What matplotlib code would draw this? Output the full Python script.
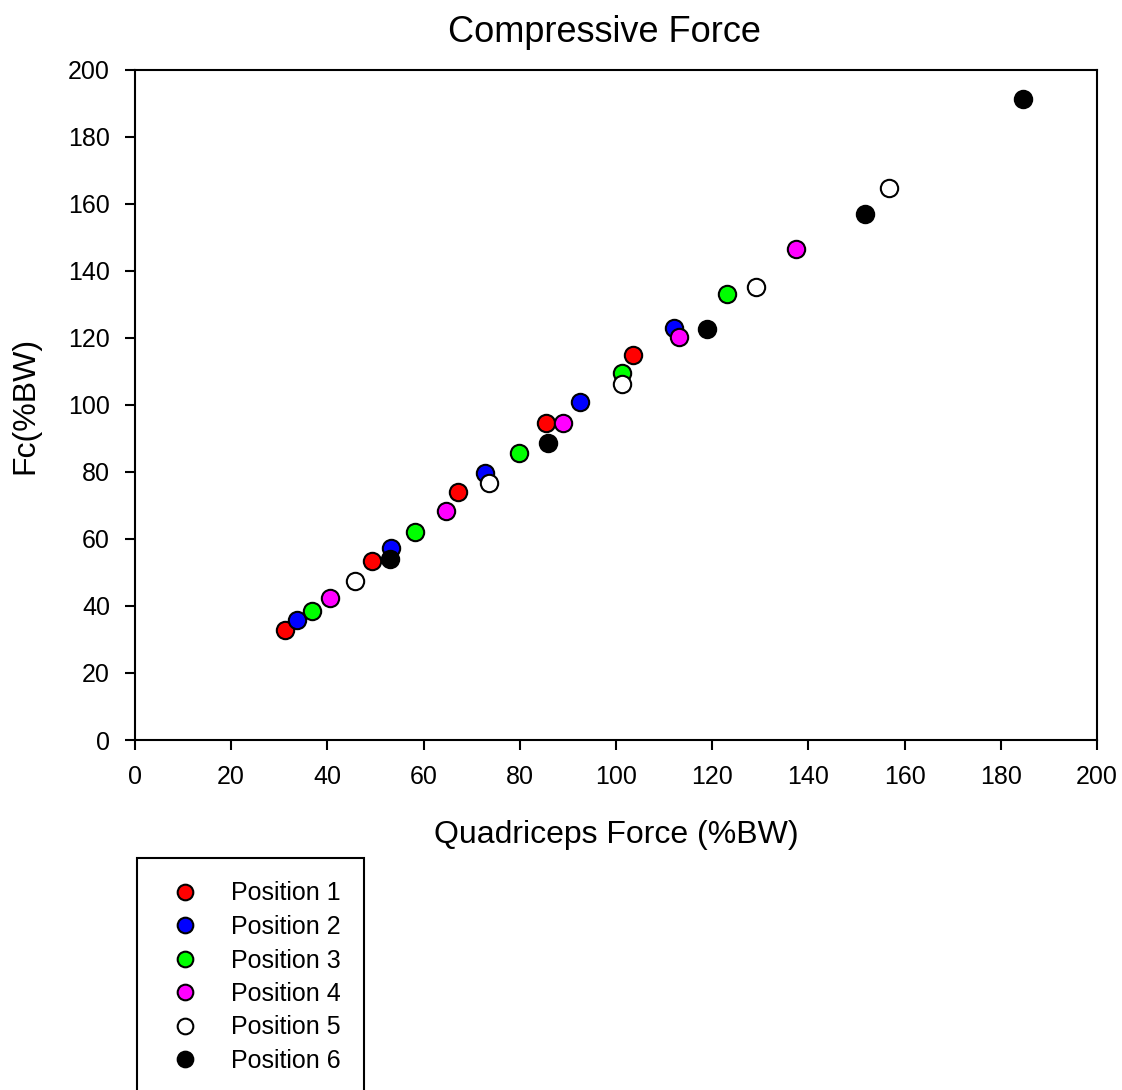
import matplotlib
matplotlib.use("Agg")
import matplotlib.pyplot as plt

plt.rcParams["font.family"] = ["Liberation Sans", "DejaVu Sans"]

# Data (%BW)
pos1_x = [31.2, 49.2, 67.2, 85.4, 103.6]
pos1_y = [32.8, 53.5, 74.1, 94.5, 114.9]
pos2_x = [33.7, 53.2, 72.8, 92.5, 112.1]
pos2_y = [35.8, 57.4, 79.6, 101.0, 123.1]
pos3_x = [36.7, 58.2, 79.8, 101.3, 123.0]
pos3_y = [38.6, 62.1, 85.8, 109.6, 133.1]
pos4_x = [40.6, 64.7, 88.9, 113.2, 137.4]
pos4_y = [42.3, 68.4, 94.5, 120.4, 146.5]
pos5_x = [45.8, 73.5, 101.3, 129.1, 156.8]
pos5_y = [47.5, 76.6, 106.2, 135.3, 164.9]
pos6_x = [53.0, 85.9, 118.9, 151.8, 184.6]
pos6_y = [54.0, 88.6, 122.8, 157.0, 191.2]

labels = ["Position 1", "Position 2", "Position 3", "Position 4", "Position 5", "Position 6"]
colors = ["#ff0000", "#0000ff", "#00ff00", "#ff00ff", "#ffffff", "#000000"]
xs = [pos1_x, pos2_x, pos3_x, pos4_x, pos5_x, pos6_x]
ys = [pos1_y, pos2_y, pos3_y, pos4_y, pos5_y, pos6_y]

fig = plt.figure(figsize=(11.22, 10.9), dpi=100)
ax = fig.add_axes([0.1203, 0.3211, 0.8574, 0.6147])

for x, y, c, lab in zip(xs, ys, colors, labels):
    ax.plot(x, y, linestyle="none", marker="o", markersize=12.5,
            markerfacecolor=c, markeredgecolor="black", markeredgewidth=1.5,
            label=lab)

ax.set_xlim(0, 200)
ax.set_ylim(0, 200)
ax.set_xticks(range(0, 201, 20))
ax.set_yticks(range(0, 201, 20))
ax.tick_params(direction="out", length=7, width=1.5, labelsize=18, pad=11)
for s in ax.spines.values():
    s.set_linewidth(1.5)

ax.set_title("Compressive Force", fontsize=26, pad=20, x=0.4875)
ax.set_xlabel("Quadriceps Force (%BW)", fontsize=23, labelpad=22)
ax.set_ylabel("Fc(%BW)", fontsize=23, labelpad=20)

leg = fig.legend(loc="upper left", bbox_to_anchor=(137 / 1122, 1 - 858 / 1090),
                 fontsize=18, frameon=True, fancybox=False, edgecolor="black",
                 borderpad=0.94, labelspacing=0.38, handlelength=1.96,
                 handletextpad=0.86, borderaxespad=0, markerscale=0.9)
leg.get_frame().set_linewidth(1.5)
leg.get_frame().set_alpha(1)

fig.savefig("out.png", dpi=100)
